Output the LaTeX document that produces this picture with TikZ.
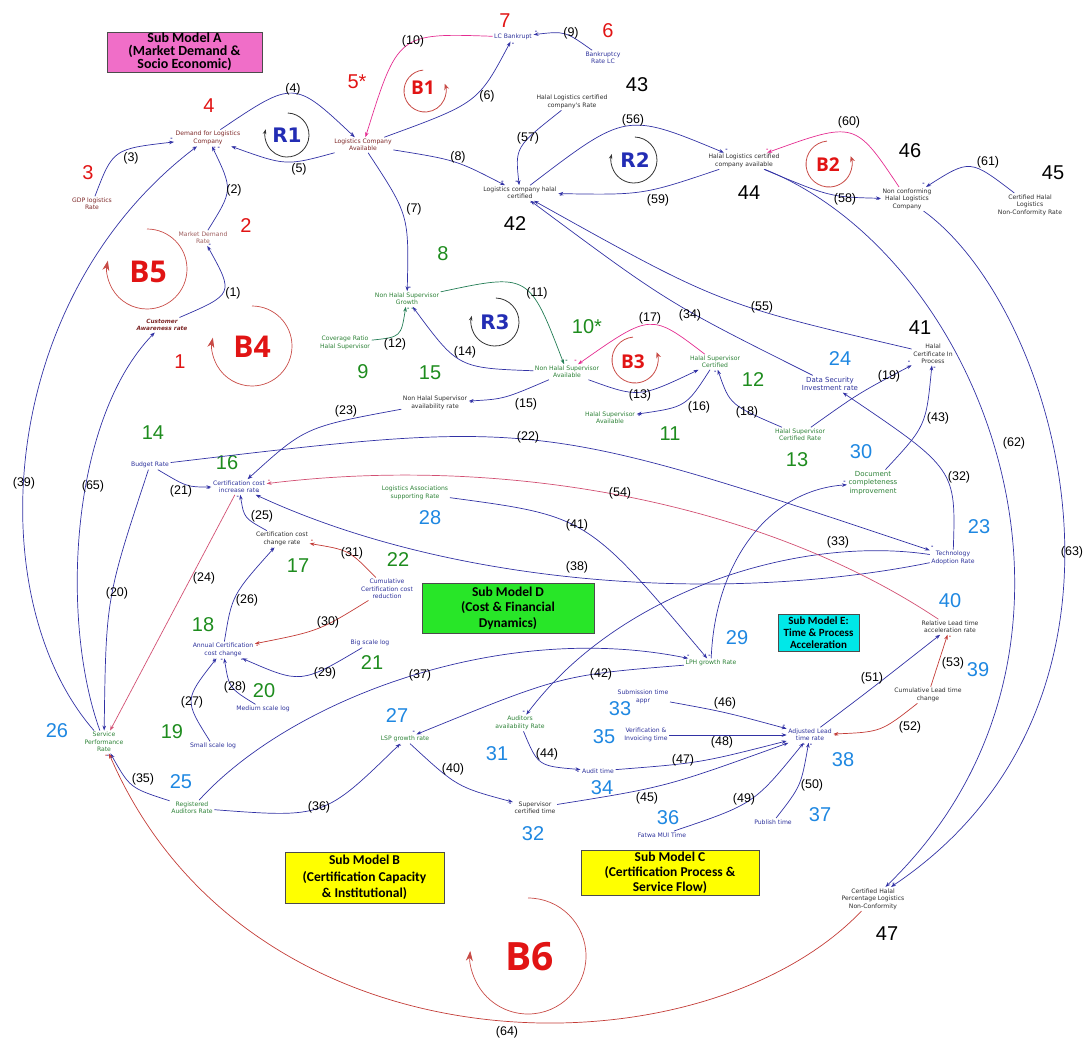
\documentclass[tikz,border=0pt]{standalone}
\usepackage{fontspec}
\setmainfont{Liberation Sans}
\newfontfamily\varfont{DejaVu Sans}
\newfontfamily\boxfont{Carlito}
\newfontfamily\loopfont{Open Sans}
\usetikzlibrary{arrows.meta}

\definecolor{lnblue}{RGB}{50,50,165}
\definecolor{lnred}{RGB}{195,60,55}
\definecolor{lnrose}{RGB}{210,80,115}
\definecolor{lnpink}{RGB}{228,45,145}
\definecolor{lngreen}{RGB}{35,125,85}
\definecolor{numred}{RGB}{225,20,20}
\definecolor{numgreen}{RGB}{30,140,30}
\definecolor{numblue}{RGB}{30,135,225}
\definecolor{txtred}{RGB}{125,40,40}
\definecolor{txtgreen}{RGB}{45,130,55}
\definecolor{txtblue}{RGB}{45,50,155}
\definecolor{txtdark}{RGB}{45,45,45}
\definecolor{loopred}{RGB}{200,75,70}
\definecolor{rblue}{RGB}{35,45,180}
\definecolor{boxpink}{RGB}{240,110,200}
\definecolor{boxyellow}{RGB}{255,255,0}
\definecolor{boxgreen}{RGB}{40,230,40}
\definecolor{boxcyan}{RGB}{0,232,232}

\tikzset{
    >={Stealth[length=5pt,width=3.6pt]},
    var/.style={font=\varfont\fontsize{6.1}{7.4}\selectfont, align=center, inner sep=1.5pt},
    vred/.style={var, text=txtred},
    vemph/.style={var, text=txtred, font=\varfont\bfseries\itshape\fontsize{5.8}{7.2}\selectfont},
    vgreen/.style={var, text=txtgreen},
    vblue/.style={var, text=txtblue},
    vdark/.style={var, text=txtdark},
    vbig/.style={font=\varfont\fontsize{7}{8.4}\selectfont},
    num/.style={font=\fontsize{20}{20}\selectfont, inner sep=0pt},
    nred/.style={num, text=numred},
    ngreen/.style={num, text=numgreen},
    nblue/.style={num, text=numblue},
    nblack/.style={num, text=black},
    elab/.style={font=\fontsize{12.5}{12.5}\selectfont, inner sep=0pt},
    lk/.style={->, color=lnblue, line width=0.7pt},
    lkred/.style={->, color=lnred, line width=0.7pt},
    lkrose/.style={->, color=lnrose, line width=0.7pt},
    lkpink/.style={->, color=lnpink, line width=0.7pt},
    lkgreen/.style={->, color=lngreen, line width=0.7pt},
    sgn/.style={font=\bfseries\fontsize{7}{7}\selectfont, inner sep=1pt, anchor=south east},
    smbox/.style={draw=black!70, line width=0.8pt, align=center, inner sep=0pt,
        font=\boxfont\bfseries\fontsize{13.5}{15.5}\selectfont},
    loopk/.style={->, line width=0.8pt, color=black!80},
    loopr/.style={-{Stealth[length=6pt,width=5pt]}, line width=0.8pt, color=loopred},
    loopbig/.style={-{Stealth[length=10pt,width=7pt]}, line width=0.7pt, color=loopred},
    rlab/.style={font=\varfont\bfseries\fontsize{20}{20}\selectfont, text=rblue, inner sep=0pt},
    blab/.style={font=\loopfont\bfseries\fontsize{19}{19}\selectfont, text=numred, inner sep=0pt},
    bbig/.style={blab, font=\loopfont\bfseries\fontsize{30}{30}\selectfont},
}

\begin{document}
\begin{tikzpicture}[x=1pt,y=-1pt]
        \useasboundingbox (0,0) rectangle (1083,1043);

        % sub model boxes
        \node[smbox, fill=boxpink, minimum width=155pt, minimum height=40pt,
            font=\boxfont\bfseries\fontsize{14}{12.5}\selectfont] (smA) at (184.5,52) {Sub Model A\\(Market Demand \&\\Socio Economic)};
        \node[smbox, fill=boxyellow, minimum width=159pt, minimum height=51pt,
            font=\boxfont\bfseries\fontsize{13.5}{16.5}\selectfont] (smB) at (364.5,877.5) {Sub Model B\\(Certification Capacity\\\& Institutional)};
        \node[smbox, fill=boxyellow, minimum width=178pt, minimum height=45pt,
            font=\boxfont\bfseries\fontsize{13.5}{15}\selectfont] (smC) at (670,872.5) {Sub Model C\\(Certification Process \&\\Service Flow)};
        \node[smbox, fill=boxgreen, minimum width=172pt, minimum height=50pt] (smD) at (508,608) {Sub Model D\\(Cost \& Financial\\Dynamics)};
        \node[smbox, fill=boxcyan, minimum width=81pt, minimum height=37pt,
            font=\boxfont\bfseries\fontsize{11}{12}\selectfont] (smE) at (818.5,632.5) {Sub Model E:\\Time \& Process\\Acceleration};

        % variables
        \node[vemph] (cust) at (162,325) {Customer\\Awareness rate};
        \node[vred, text=txtred!75] (mdr) at (203,238) {Market Demand\\Rate};
        \node[vred] (gdp) at (92,204) {GDP logistics\\Rate};
        \node[vred] (dem) at (208,138) {Demand for Logistics\\Company};
        \node[vred] (lca) at (363,145) {Logistics Company\\Available};
        \node[vblue] (lcb) at (513,37) {LC Bankrupt};
        \node[vblue] (bankr) at (603,58) {Bankruptcy\\Rate LC};
        \node[vdark] (hlcr) at (572,102) {Halal Logistics certified\\company's Rate};
        \node[vdark] (lchc) at (520,193) {Logistics company halal\\certified};
        \node[vdark] (hlca) at (744,161) {Halal Logistics certified\\company available};
        \node[vdark] (ncon) at (907,199) {Non conforming\\Halal Logistics\\Company};
        \node[vdark] (nconr) at (1030,205) {Certified Halal\\Logistics\\Non-Conformity Rate};
        \node[vdark] (hcip) at (933,354) {Halal\\Certificate In\\Process};
        \node[vgreen] (nhsg) at (407,299) {Non Halal Supervisor\\Growth};
        \node[vgreen] (cov) at (345,343) {Coverage Ratio\\Halal Supervisor};
        \node[vgreen] (nhsa) at (567,372) {Non Halal Supervisor\\Available};
        \node[vgreen] (hsc) at (715,362) {Halal Supervisor\\Certified};
        \node[vgreen] (hsa) at (610,418) {Halal Supervisor\\Available};
        \node[vgreen] (hscr) at (800,435) {Halal Supervisor\\Certified Rate};
        \node[vdark] (nhsar) at (435,403) {Non Halal Supervisor\\availability rate};
        \node[vblue] (budget) at (150,465) {Budget Rate};
        \node[vblue] (ccir) at (239,487) {Certification cost\\increase rate};
        \node[vdark] (cccr) at (282,539) {Certification cost\\change rate};
        \node[vblue] (acc) at (223,650) {Annual Certification\\cost change};
        \node[vblue] (small) at (213,746) {Small scale log};
        \node[vblue] (medium) at (263,709) {Medium scale log};
        \node[vblue] (big) at (370,643) {Big scale log};
        \node[vblue] (ccr) at (387,589) {Cumulative\\Certification cost\\reduction};
        \node[vblue, vbig] (dsec) at (830,384) {Data Security\\Investment rate};
        \node[vblue] (tech) at (953,558) {Technology\\Adoption Rate};
        \node[vgreen, vbig] (doc) at (873,483) {Document\\completeness\\improvement};
        \node[vdark] (rel) at (950,627) {Relative Lead time\\acceleration rate};
        \node[vdark] (clt) at (928,695) {Cumulative Lead time\\change};
        \node[vgreen] (assoc) at (415,493) {Logistics Associations\\supporting Rate};
        \node[vgreen] (lph) at (711,663) {LPH growth Rate};
        \node[vgreen] (spr) at (104,742) {Service\\Performance\\Rate};
        \node[vgreen] (reg) at (192,808) {Registered\\Auditors Rate};
        \node[vgreen] (lsp) at (405,739) {LSP growth rate};
        \node[vgreen] (aud) at (520,723) {Auditors\\availability Rate};
        \node[vdark] (sct) at (535,808) {Supervisor\\certified time};
        \node[vblue] (audt) at (598,771) {Audit time};
        \node[vblue] (sub) at (643,697) {Submission time\\appr};
        \node[vblue] (ver) at (646,735) {Verification \&\\Invoicing time};
        \node[vblue] (fatwa) at (662,835) {Fatwa MUI Time};
        \node[vblue] (pub) at (773,822) {Publish time};
        \node[vblue] (adj) at (810,735) {Adjusted Lead\\time rate};
        \node[vdark] (pct) at (873,899) {Certified Halal\\Percentage Logistics\\Non-Conformity};

        % variable numbers
        \node[nred] (n1) at (180,362) {1};
        \node[nred] (n2) at (246,226) {2};
        \node[nred] (n3) at (88,173) {3};
        \node[nred] (n4) at (209,106) {4};
        \node[nred] (n5) at (357,82) {5*};
        \node[nred] (n6) at (608,31) {6};
        \node[nred] (n7) at (505,21) {7};
        \node[ngreen] (n8) at (443,254) {8};
        \node[ngreen] (n9) at (363,372) {9};
        \node[ngreen] (n10) at (587,327) {10*};
        \node[ngreen] (n11) at (670,434) {11};
        \node[ngreen] (n12) at (753,380) {12};
        \node[ngreen] (n13) at (797,460) {13};
        \node[ngreen] (n14) at (153,433) {14};
        \node[ngreen] (n15) at (430,373) {15};
        \node[ngreen] (n16) at (227,463) {16};
        \node[ngreen] (n17) at (298,566) {17};
        \node[ngreen] (n18) at (203,625) {18};
        \node[ngreen] (n19) at (172,732) {19};
        \node[ngreen] (n20) at (264,691) {20};
        \node[ngreen] (n21) at (372,663) {21};
        \node[ngreen] (n22) at (398,560) {22};
        \node[nblue] (n23) at (979,527) {23};
        \node[nblue] (n24) at (840,359) {24};
        \node[nblue] (n25) at (181,782) {25};
        \node[nblue] (n26) at (57,731) {26};
        \node[nblue] (n27) at (397,716) {27};
        \node[nblue] (n28) at (430,518) {28};
        \node[nblue] (n29) at (737,638) {29};
        \node[nblue] (n30) at (861,452) {30};
        \node[nblue] (n31) at (497,754) {31};
        \node[nblue] (n32) at (533,834) {32};
        \node[nblue] (n33) at (620,709) {33};
        \node[nblue] (n34) at (602,788) {34};
        \node[nblue] (n35) at (604,737) {35};
        \node[nblue] (n36) at (668,818) {36};
        \node[nblue] (n37) at (820,815) {37};
        \node[nblue] (n38) at (843,760) {38};
        \node[nblue] (n39) at (978,670) {39};
        \node[nblue] (n40) at (950,601) {40};
        \node[nblack] (n41) at (920,328) {41};
        \node[nblack] (n42) at (515,224) {42};
        \node[nblack] (n43) at (637,85) {43};
        \node[nblack] (n44) at (749,193) {44};
        \node[nblack] (n45) at (1053,173) {45};
        \node[nblack] (n46) at (910,151) {46};
        \node[nblack] (n47) at (887,934) {47};

        % loops
        \draw[loopk] (287,135) ++(-88:22) arc[start angle=-88,end angle=195,radius=22];
        \node[rlab] (r1) at (287,135) {R1};
        \draw[loopk] (634,160) ++(-88:23) arc[start angle=-88,end angle=195,radius=23];
        \node[rlab] (r2) at (635,160) {R2};
        \draw[loopk] (495,322) ++(-88:24) arc[start angle=-88,end angle=195,radius=24];
        \node[rlab] (r3) at (495,322) {R3};
        \draw[loopr] (425,91) ++(-95:21) arc[start angle=-95,end angle=-380,radius=21];
        \node[blab] (b1) at (423,88) {B1};
        \draw[loopr] (829,164) ++(-95:23) arc[start angle=-95,end angle=-380,radius=23];
        \node[blab] (b2) at (828,165) {B2};
        \draw[loopr] (635,360) ++(-95:23) arc[start angle=-95,end angle=-380,radius=23];
        \node[blab] (b3) at (633,362) {B3};
        \draw[loopbig] (252,346) ++(-90:40) arc[start angle=-90,end angle=192,radius=40];
        \node[bbig] (b4) at (252,347) {B4};
        \draw[loopbig] (147,269) ++(-90:40) arc[start angle=-90,end angle=192,radius=40];
        \node[bbig] (b5) at (148,272) {B5};
        \draw[loopbig] (528,956) ++(-90:58) arc[start angle=-90,end angle=185,radius=58];
        \node[blab, font=\loopfont\bfseries\fontsize{39}{39}\selectfont] (b6) at (530,957) {B6};

        % links
        \draw[lk] (cust) .. controls (234,294) .. (mdr) node[sgn,pos=1,anchor=west]{-};
        \draw[lk] (mdr) .. controls (233,190) .. (dem) node[sgn,pos=1,anchor=north west]{- -};
        \draw[lk] (gdp) .. controls (113,149) .. (dem) node[sgn,pos=1]{-};
        \draw[lk] (dem) .. controls (294,80) .. (lca) node[sgn,pos=1]{-};
        \draw[lk] (lca) .. controls (286,166) .. (dem) node[sgn,pos=1,anchor=north west]{-};
        \draw[lk] (lca) .. controls (478,103) .. (lcb) node[sgn,pos=1,anchor=north west]{-};
        \draw[lk] (lca) .. controls (409,215) .. (nhsg) node[sgn,pos=1,anchor=south west]{-};
        \draw[lk] (lca) .. controls (456,160) .. (lchc) node[sgn,pos=1]{-};
        \draw[lk] (bankr) .. controls (565,31) .. (lcb) node[sgn,pos=1,anchor=south west]{-};
        \draw[lkpink] (lcb) .. controls (398,33) .. (lca);
        \draw[lkgreen] (nhsg) .. controls (529,273) .. (nhsa) node[sgn,pos=1,anchor=south west]{-};
        \draw[lkgreen] (cov) .. controls (401,337) .. (nhsg) node[sgn,pos=1,anchor=north west]{- -};
        \draw[lk] (nhsa) .. controls (639,398) .. (hsc) node[sgn,pos=1,anchor=north east]{-};
        \draw[lk] (nhsa) .. controls (458,368) .. (nhsg);
        \draw[lk] (nhsa) .. controls (504,399) .. (nhsar) node[sgn,pos=1,anchor=north west]{-};
        \draw[lk] (hsc) .. controls (686,407) .. (hsa) node[sgn,pos=1,anchor=north west]{-};
        \draw[lkpink] (hsc) .. controls (651,313) .. (nhsa) node[sgn,pos=1]{-};
        \draw[lk] (hscr) .. controls (730,405) .. (hsc) node[sgn,pos=1,anchor=north east]{-};
        \draw[lk] (hscr) .. controls (859,393) .. (hcip) node[sgn,pos=1]{-};
        \draw[lk] (budget) .. controls (106,598) .. (spr);
        \draw[lk] (budget) .. controls (187,487) .. (ccir) node[sgn,pos=1,anchor=north east]{-};
        \draw[lk] (budget) .. controls (537,419) .. (tech) node[sgn,pos=1,anchor=south west]{-};
        \draw[lk] (nhsar) .. controls (305,427) .. (ccir) node[sgn,pos=1,anchor=south west]{-};
        \draw[lkrose] (ccir) -- (spr) node[sgn,pos=1,anchor=south west]{-};
        \draw[lk] (cccr) .. controls (244,518) .. (ccir) node[sgn,pos=1,anchor=north east]{-};
        \draw[lk] (acc) .. controls (232,595) .. (cccr) node[sgn,pos=1,anchor=north east]{-};
        \draw[lk] (small) .. controls (184,700) .. (acc) node[sgn,pos=1,anchor=north east]{-};
        \draw[lk] (medium) .. controls (229,688) .. (acc) node[sgn,pos=1,anchor=north east]{-};
        \draw[lk] (big) .. controls (301,684) .. (acc) node[sgn,pos=1,anchor=north]{-};
        \draw[lkred] (ccr) .. controls (319,631) .. (acc) node[sgn,pos=1,anchor=north west]{-};
        \draw[lkred] (ccr) .. controls (349,550) .. (cccr) node[sgn,pos=1,anchor=south west]{-};
        \draw[lk] (tech) .. controls (956,469) .. (dsec) node[sgn,pos=1,anchor=north west]{-};
        \draw[lk] (tech) .. controls (800,535) and (620,590) .. (aud) node[sgn,pos=1]{-};
        \draw[lk] (dsec) .. controls (668,303) .. (lchc);
        \draw[lk] (reg) .. controls (130,788) .. (spr) node[sgn,pos=1,anchor=north east]{-};
        \draw[lk] (reg) .. controls (324,818) .. (lsp) node[sgn,pos=1,anchor=north]{-};
        \draw[lk] (reg) .. controls (290,700) and (500,620) .. (lph) node[sgn,pos=1,anchor=south]{-};
        \draw[lk] (tech) .. controls (720,605) and (450,585) .. (ccir) node[sgn,pos=1,anchor=south west]{-};
        \draw[lk] (spr) .. controls (-20,600) and (-5,300) .. (dem) node[sgn,pos=1,anchor=north east]{-};
        \draw[lk] (lsp) .. controls (457,787) .. (sct) node[sgn,pos=1,anchor=north east]{-};
        \draw[lk] (assoc) .. controls (587,516) .. (lph) node[sgn,pos=1,anchor=south west]{-};
        \draw[lk] (lph) .. controls (562,675) .. (lsp) node[sgn,pos=1]{-};
        \draw[lk] (doc) .. controls (926,426) .. (hcip) node[sgn,pos=1,anchor=north west]{-};
        \draw[lk] (aud) .. controls (538,766) .. (audt) node[sgn,pos=1,anchor=north east]{-};
        \draw[lk] (sct) .. controls (666,787) .. (adj);
        \draw[lk] (sub) .. controls (725,712) .. (adj) node[sgn,pos=1]{-};
        \draw[lk] (audt) .. controls (700,763) .. (adj) node[sgn,pos=1,anchor=north east]{-};
        \draw[lk] (ver) -- (adj);
        \draw[lk] (fatwa) .. controls (754,804) .. (adj) node[sgn,pos=1,anchor=north]{-};
        \draw[lk] (pub) .. controls (801,786) .. (adj) node[sgn,pos=1,anchor=north west]{-};
        \draw[lk] (adj) .. controls (866,693) .. (rel) node[sgn,pos=1,anchor=north east]{-};
        \draw[lkred] (clt) .. controls (881,732) .. (adj) node[sgn,pos=1,anchor=north west]{-};
        \draw[lkred] (clt) -- (rel) node[sgn,pos=1,anchor=north west]{-};
        \draw[lkrose] (rel) .. controls (760,500) and (500,455) .. (ccir) node[sgn,pos=1,anchor=south west]{-};
        \draw[lk] (hcip) .. controls (719,304) .. (lchc) node[sgn,pos=1,anchor=north east]{-};
        \draw[lk] (lchc) .. controls (626,112) .. (hlca) node[sgn,pos=1,anchor=south west]{-};
        \draw[lk] (hlcr) .. controls (515,147) .. (lchc) node[sgn,pos=1]{-};
        \draw[lk] (hlca) .. controls (830,197) .. (ncon) node[sgn,pos=1,anchor=north east]{-};
        \draw[lk] (hlca) .. controls (643,195) .. (lchc) node[sgn,pos=1,anchor=north west]{-};
        \draw[lkpink] (ncon) .. controls (855,121) .. (hlca) node[sgn,pos=1,anchor=south]{-};
        \draw[lk] (nconr) .. controls (970,159) .. (ncon) node[sgn,pos=1]{-};
        \draw[lk] (hlca) .. controls (990,260) and (1130,650) .. (pct);
        \draw[lk] (ncon) .. controls (1060,310) and (1170,700) .. (pct) node[sgn,pos=1,anchor=south west]{-};
        \draw[lkred] (pct) .. controls (700,1080) and (250,1080) .. (spr) node[sgn,pos=1,anchor=north east]{-};
        \draw[lk] (spr) .. controls (60,620) and (70,420) .. (cust) node[sgn,pos=1,anchor=north east]{-};
        \draw[lk] (lph) .. controls (715,560) and (770,490) .. (doc) node[sgn,pos=1]{-};

        % link labels
        \node[elab] (l1) at (233,293) {(1)};
        \node[elab] (l2) at (234,190) {(2)};
        \node[elab] (l3) at (131,158) {(3)};
        \node[elab] (l4) at (293,89) {(4)};
        \node[elab] (l5) at (299,169) {(5)};
        \node[elab] (l6) at (487,96) {(6)};
        \node[elab] (l7) at (414,209) {(7)};
        \node[elab] (l8) at (458,157) {(8)};
        \node[elab] (l9) at (571,33) {(9)};
        \node[elab] (l10) at (413,41) {(10)};
        \node[elab] (l11) at (537,293) {(11)};
        \node[elab] (l12) at (395,344) {(12)};
        \node[elab] (l13) at (640,395) {(13)};
        \node[elab] (l14) at (465,352) {(14)};
        \node[elab] (l15) at (526,404) {(15)};
        \node[elab] (l16) at (699,407) {(16)};
        \node[elab] (l17) at (650,318) {(17)};
        \node[elab] (l18) at (747,412) {(18)};
        \node[elab] (l19) at (889,376) {(19)};
        \node[elab] (l20) at (117,593) {(20)};
        \node[elab] (l21) at (181,491) {(21)};
        \node[elab] (l22) at (528,437) {(22)};
        \node[elab] (l23) at (346,411) {(23)};
        \node[elab] (l24) at (204,578) {(24)};
        \node[elab] (l25) at (262,516) {(25)};
        \node[elab] (l26) at (247,600) {(26)};
        \node[elab] (l27) at (192,702) {(27)};
        \node[elab] (l28) at (235,687) {(28)};
        \node[elab] (l29) at (325,673) {(29)};
        \node[elab] (l30) at (328,622) {(30)};
        \node[elab] (l31) at (352,553) {(31)};
        \node[elab] (l32) at (959,477) {(32)};
        \node[elab] (l33) at (838,542) {(33)};
        \node[elab] (l34) at (690,315) {(34)};
        \node[elab] (l35) at (143,779) {(35)};
        \node[elab] (l36) at (319,807) {(36)};
        \node[elab] (l37) at (420,675) {(37)};
        \node[elab] (l38) at (577,567) {(38)};
        \node[elab] (l39) at (24,483) {(39)};
        \node[elab] (l40) at (453,769) {(40)};
        \node[elab] (l41) at (577,525) {(41)};
        \node[elab] (l42) at (601,674) {(42)};
        \node[elab] (l43) at (938,418) {(43)};
        \node[elab] (l44) at (547,754) {(44)};
        \node[elab] (l45) at (647,798) {(45)};
        \node[elab] (l46) at (725,703) {(46)};
        \node[elab] (l47) at (683,760) {(47)};
        \node[elab] (l48) at (722,742) {(48)};
        \node[elab] (l49) at (744,799) {(49)};
        \node[elab] (l50) at (812,785) {(50)};
        \node[elab] (l51) at (872,678) {(51)};
        \node[elab] (l52) at (910,727) {(52)};
        \node[elab] (l53) at (953,663) {(53)};
        \node[elab] (l54) at (620,493) {(54)};
        \node[elab] (l55) at (762,307) {(55)};
        \node[elab] (l56) at (633,120) {(56)};
        \node[elab] (l57) at (528,138) {(57)};
        \node[elab] (l58) at (845,199) {(58)};
        \node[elab] (l59) at (658,200) {(59)};
        \node[elab] (l60) at (849,122) {(60)};
        \node[elab] (l61) at (988,162) {(61)};
        \node[elab] (l62) at (1014,443) {(62)};
        \node[elab] (l63) at (1072,552) {(63)};
        \node[elab] (l64) at (507,1032) {(64)};
        \node[elab] (l65) at (93,486) {(65)};
\end{tikzpicture}
\end{document}
